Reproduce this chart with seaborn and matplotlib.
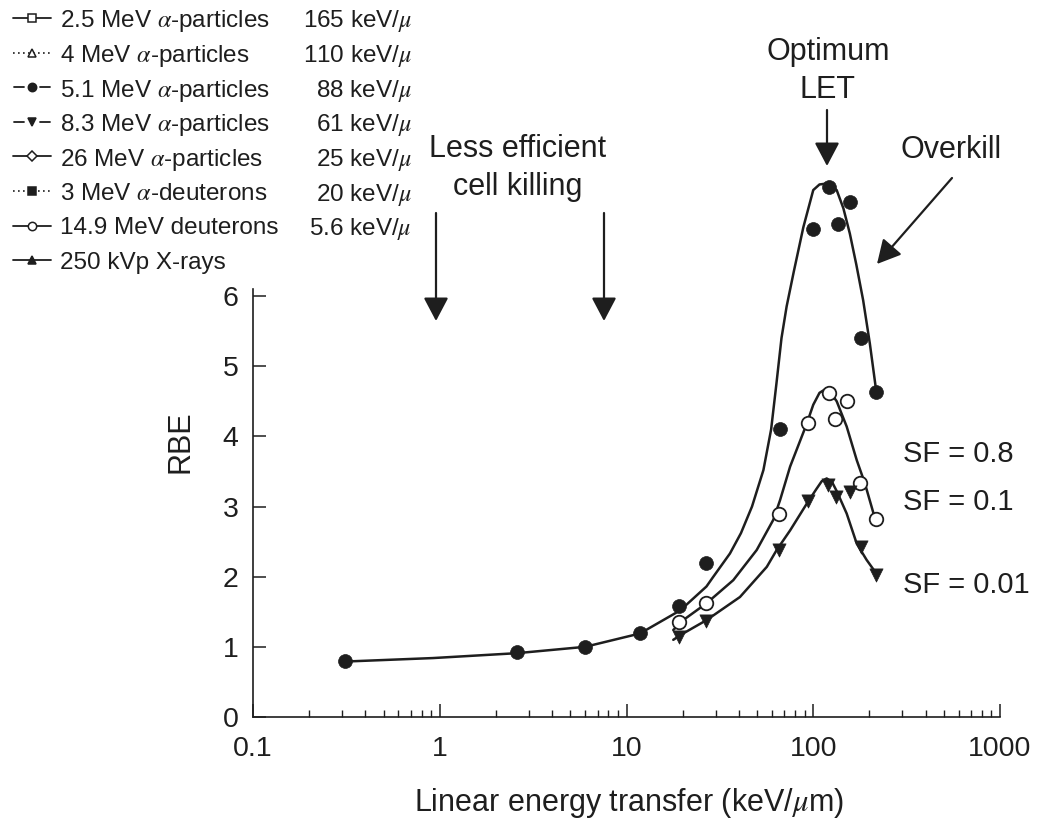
import numpy as np
import matplotlib
matplotlib.use("Agg")
import matplotlib.pyplot as plt
import seaborn as sns
from matplotlib.lines import Line2D
from matplotlib.ticker import LogLocator, NullFormatter

# ---------------- data ----------------
# fitted curves (RBE vs LET)
sf08_curve_x = [0.31, 0.92, 2.6, 6.0, 11.8, 19.4, 26.8, 29.0, 35.8, 41.0, 47.0, 54.1, 59.5,
                63.5, 67.6, 72.0, 78.7, 88.5, 100, 108, 115.7, 124, 133.5, 145, 157, 170,
                185, 201, 217]
sf08_curve_y = [0.79, 0.84, 0.91, 1.00, 1.19, 1.52, 1.86, 1.99, 2.33, 2.62, 3.00, 3.52, 4.10,
                4.75, 5.40, 5.85, 6.35, 6.98, 7.51, 7.59, 7.60, 7.57, 7.51, 7.25, 6.89, 6.45,
                5.94, 5.32, 4.66]

sf01_curve_x = [17.8, 20.1, 26.8, 37.3, 49.8, 61.1, 66.4, 75.2, 92.3, 100, 108, 115.7, 124,
                133.5, 151, 171, 189, 214]
sf01_curve_y = [1.24, 1.38, 1.62, 1.95, 2.38, 2.81, 3.09, 3.57, 4.18, 4.45, 4.62, 4.67, 4.62,
                4.50, 4.14, 3.66, 3.33, 2.83]

sf001_curve_x = [17.8, 20.1, 26.8, 40.5, 56.4, 63.7, 75.2, 92.3, 104, 111, 118, 126, 133.5,
                 151, 171, 193, 217]
sf001_curve_y = [1.10, 1.19, 1.38, 1.71, 2.14, 2.38, 2.66, 3.04, 3.25, 3.36, 3.40, 3.35, 3.22,
                 2.90, 2.47, 2.24, 2.05]

# measured points
sf08_x = [0.31, 2.6, 6.0, 11.8, 19.1, 26.5, 66.0, 99.8, 121, 136, 157, 181, 217]
sf08_y = [0.80, 0.92, 1.00, 1.20, 1.58, 2.20, 4.10, 6.96, 7.56, 7.02, 7.34, 5.40, 4.63]
sf01_x = [19.1, 26.5, 65.4, 94.3, 122, 131, 152, 178, 217]
sf01_y = [1.35, 1.62, 2.89, 4.19, 4.62, 4.25, 4.50, 3.33, 2.82]
sf001_x = [19.1, 26.5, 65.2, 93.7, 120, 133, 157, 181, 218]
sf001_y = [1.14, 1.37, 2.38, 3.08, 3.30, 3.13, 3.20, 2.43, 2.02]

sf_labels = ["SF = 0.8", "SF = 0.1", "SF = 0.01"]

xtick_vals = [0.1, 1, 10, 100, 1000]
xtick_labels = ["0.1", "1", "10", "100", "1000"]
ytick_vals = [0, 1, 2, 3, 4, 5, 6]

legend_labels = ["2.5 MeV $\\alpha$-particles", "4 MeV $\\alpha$-particles",
                 "5.1 MeV $\\alpha$-particles", "8.3 MeV $\\alpha$-particles",
                 "26 MeV $\\alpha$-particles", "3 MeV $\\alpha$-deuterons",
                 "14.9 MeV deuterons", "250 kVp X-rays"]
legend_let = ["165 keV/$\\mu$", "110 keV/$\\mu$", "88 keV/$\\mu$", "61 keV/$\\mu$",
              "25 keV/$\\mu$", "20 keV/$\\mu$", "5.6 keV/$\\mu$", ""]
legend_markers = ["s", "^", "o", "v", "D", "s", "o", "^"]
legend_filled = [False, False, True, True, False, True, False, True]
legend_styles = ["solid", "dotted", "dashed", "dashed", "solid", "dotted", "solid", "solid"]

# ---------------- style ----------------
sns.set_theme(style="white")
plt.rcParams["font.family"] = ["Liberation Sans", "DejaVu Sans"]
plt.rcParams["mathtext.fontset"] = "stix"

ink = "#1e1e1e"
W, H = 1048, 822
fig = plt.figure(figsize=(W / 100, H / 100), dpi=100)
fig.patch.set_facecolor("white")
ax = fig.add_axes([253 / W, 1 - 717 / H, 747 / W, 428 / H])
ax.set_xscale("log")


def fp(x, y):
    return (x / W, 1 - y / H)


# curves
for cx, cy in [(sf08_curve_x, sf08_curve_y), (sf01_curve_x, sf01_curve_y),
               (sf001_curve_x, sf001_curve_y)]:
    sns.lineplot(x=cx, y=cy, ax=ax, color=ink, lw=1.8, estimator=None, sort=False,
                 clip_on=False, zorder=2)

# points
sns.scatterplot(x=sf08_x, y=sf08_y, ax=ax, marker="o", s=100, color=ink, edgecolor=ink,
                linewidth=0.5, clip_on=False, zorder=4)
sns.scatterplot(x=sf01_x, y=sf01_y, ax=ax, marker="o", s=95, color="white", edgecolor=ink,
                linewidth=1.3, clip_on=False, zorder=4)
sns.scatterplot(x=sf001_x, y=sf001_y, ax=ax, marker="v", s=90, color=ink, edgecolor=ink,
                linewidth=0.5, clip_on=False, zorder=4)

# axes
ax.set_xlim(0.1, 1000)
ax.set_ylim(0, 6.1)
ax.set_xticks(xtick_vals)
ax.set_xticklabels(xtick_labels)
ax.xaxis.set_minor_locator(LogLocator(base=10, subs=np.arange(2, 10)))
ax.xaxis.set_minor_formatter(NullFormatter())
ax.set_yticks(ytick_vals)
ax.set_yticklabels([str(v) for v in ytick_vals])
ax.tick_params(axis="both", which="major", direction="in", length=9.4, width=1.1,
               colors=ink, labelsize=20.5)
ax.tick_params(axis="x", which="major", pad=13.5)
ax.tick_params(axis="y", which="major", pad=10.5, left=True)
ax.tick_params(axis="x", which="minor", direction="in", length=5, width=1.0, colors=ink,
               bottom=True)
ax.tick_params(axis="x", which="major", bottom=True)
sns.despine(ax=ax)
for s in ["left", "bottom"]:
    ax.spines[s].set_linewidth(1.2)
    ax.spines[s].set_color(ink)
ax.grid(False)

ax.set_xlabel("Linear energy transfer (keV/$\\mu$m)", fontsize=22, color=ink)
ax.xaxis.set_label_coords(0.503, -0.2)
ax.xaxis.label.set_va("center")
ax.set_ylabel("RBE", fontsize=22, color=ink)
ax.yaxis.set_label_coords(-0.0964, 0.643)
ax.yaxis.label.set_va("center")

# SF labels
for lab, (px, py) in zip(sf_labels, [(903, 462), (903, 510), (903, 593)]):
    fig.text(*fp(px, py), lab, ha="left", va="baseline", fontsize=21, color=ink)

# annotations
fig.text(*fp(518, 157), "Less efficient", ha="center", va="baseline", fontsize=22, color=ink)
fig.text(*fp(518, 195), "cell killing", ha="center", va="baseline", fontsize=22, color=ink)
fig.text(*fp(828, 60), "Optimum", ha="center", va="baseline", fontsize=22, color=ink)
fig.text(*fp(828, 98), "LET", ha="center", va="baseline", fontsize=22, color=ink)
fig.text(*fp(951, 158), "Overkill", ha="center", va="baseline", fontsize=22, color=ink)

arrow_kw = dict(arrowstyle="-|>,head_length=0.72,head_width=0.38", mutation_scale=20,
                color=ink, lw=1.6, shrinkA=0, shrinkB=0)
for tail, tip in [((436, 213), (436, 321)), ((604, 213), (604, 321)),
                  ((827, 110), (827, 166)), ((952, 178), (877, 264))]:
    ax.annotate("", xy=fp(*tip), xytext=fp(*tail), xycoords="figure fraction",
                textcoords="figure fraction", arrowprops=arrow_kw)

# legend (drawn manually to keep two text columns)
for i, (lab, let, mk, filled, ls) in enumerate(zip(legend_labels, legend_let, legend_markers,
                                                   legend_filled, legend_styles)):
    yy = 1 - (18 + i * 34.6) / H
    if ls == "dashed":
        for xa, xb in [(14, 24), (40, 50)]:
            fig.add_artist(Line2D([xa / W, xb / W], [yy, yy], transform=fig.transFigure,
                                  color=ink, lw=1.3))
    elif ls == "dotted":
        fig.add_artist(Line2D([13 / W, 51 / W], [yy, yy], transform=fig.transFigure,
                              color=ink, lw=1.2, ls=(0, (1, 2))))
    else:
        fig.add_artist(Line2D([13 / W, 51 / W], [yy, yy], transform=fig.transFigure,
                              color=ink, lw=1.3))
    ms = 5.0 if mk == "D" else 6.0
    fig.add_artist(Line2D([32 / W], [yy], transform=fig.transFigure, marker=mk, ms=ms,
                          mfc=ink if filled else "white", mec=ink, mew=1.1, ls="none"))
    fig.text(60 / W, yy, lab, ha="left", va="center_baseline", fontsize=17.5, color=ink)
    if let:
        fig.text(412 / W, yy, let, ha="right", va="center_baseline", fontsize=17.5, color=ink)

fig.savefig("out.png", dpi=100, facecolor="white")
